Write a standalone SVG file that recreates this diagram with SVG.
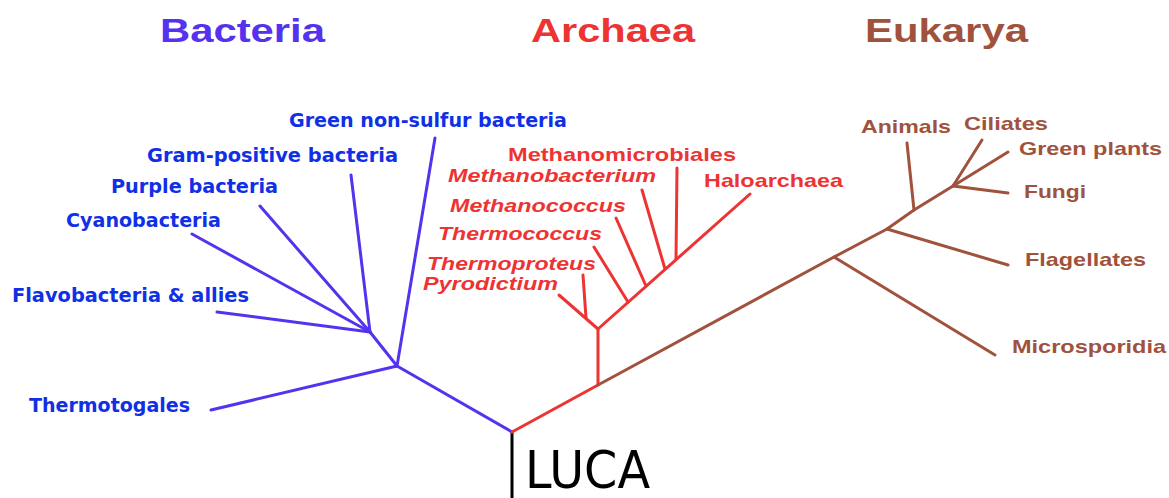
<svg xmlns="http://www.w3.org/2000/svg" width="1169" height="498" viewBox="0 0 1169 498">
<style>
.t{font-family:"Liberation Sans",Arial,sans-serif;font-weight:bold;font-size:34px}
.bl{font-family:"DejaVu Sans",Verdana,sans-serif;font-weight:bold;font-size:19px;fill:#1030e6}
.al{font-family:"Liberation Sans",Arial,sans-serif;font-weight:bold;font-size:19px;fill:#ee3333}
.ai{font-style:italic}
.el{font-family:"Liberation Sans",Arial,sans-serif;font-weight:bold;font-size:19px;fill:#a0523d}
.b{stroke:#5533ee;stroke-width:3;fill:none;stroke-linecap:round;stroke-linejoin:round}
.a{stroke:#ee3333;stroke-width:3;fill:none;stroke-linecap:round;stroke-linejoin:round}
.e{stroke:#a0523d;stroke-width:3;fill:none;stroke-linecap:round;stroke-linejoin:round}
.k{stroke:#000;stroke-width:3;fill:none}
</style>
<rect width="1169" height="498" fill="#fff"/>
<g id="connectors">
<line class="k" x1="512" y1="432" x2="512" y2="498"/>
<polyline class="b" points="512,432 397,366 211,410"/>
<line class="b" x1="397" y1="366" x2="435" y2="138"/>
<line class="b" x1="397" y1="366" x2="370" y2="332"/>
<line class="b" x1="370" y1="332" x2="217" y2="312"/>
<line class="b" x1="370" y1="332" x2="192" y2="234"/>
<line class="b" x1="370" y1="332" x2="260" y2="206"/>
<line class="b" x1="370" y1="332" x2="351" y2="175"/>
<polyline class="a" points="512,432 598,385 598,329 750,194"/>
<line class="a" x1="598" y1="329" x2="559" y2="295"/>
<line class="a" x1="586" y1="318" x2="583" y2="275"/>
<line class="a" x1="628" y1="302" x2="594" y2="247"/>
<line class="a" x1="646" y1="286" x2="616" y2="218"/>
<line class="a" x1="665" y1="269" x2="642" y2="190"/>
<line class="a" x1="676" y1="259" x2="677" y2="168"/>
<polyline class="e" points="598,385 834,257 887,229 914,210 953,186"/>
<line class="e" x1="834" y1="257" x2="995" y2="355"/>
<line class="e" x1="887" y1="229" x2="1008" y2="265"/>
<line class="e" x1="914" y1="210" x2="907" y2="143"/>
<line class="e" x1="953" y1="186" x2="982" y2="140"/>
<line class="e" x1="953" y1="186" x2="1008" y2="152"/>
<line class="e" x1="953" y1="186" x2="1008" y2="193"/>
</g>
<g id="title-bacteria"><text class="t" x="160" y="42" fill="#5533ee" textLength="165" lengthAdjust="spacingAndGlyphs">Bacteria</text></g>
<g id="title-archaea"><text class="t" x="531" y="42" fill="#ee3333" textLength="164" lengthAdjust="spacingAndGlyphs">Archaea</text></g>
<g id="title-eukarya"><text class="t" x="865" y="42" fill="#a0523d" textLength="163" lengthAdjust="spacingAndGlyphs">Eukarya</text></g>
<g id="luca"><text x="525" y="488" font-family="DejaVu Sans, Verdana, sans-serif" font-size="52" fill="#000" textLength="125" lengthAdjust="spacingAndGlyphs">LUCA</text></g>
<g id="green-non-sulfur"><text class="bl" x="289" y="127" textLength="278" lengthAdjust="spacingAndGlyphs">Green non-sulfur bacteria</text></g>
<g id="gram-positive"><text class="bl" x="147" y="162" textLength="251" lengthAdjust="spacingAndGlyphs">Gram-positive bacteria</text></g>
<g id="purple"><text class="bl" x="111" y="193" textLength="167" lengthAdjust="spacingAndGlyphs">Purple bacteria</text></g>
<g id="cyanobacteria"><text class="bl" x="66" y="227" textLength="155" lengthAdjust="spacingAndGlyphs">Cyanobacteria</text></g>
<g id="flavobacteria"><text class="bl" x="12" y="302" textLength="237" lengthAdjust="spacingAndGlyphs">Flavobacteria &amp; allies</text></g>
<g id="thermotogales"><text class="bl" x="29" y="412" textLength="161" lengthAdjust="spacingAndGlyphs">Thermotogales</text></g>
<g id="methanomicrobiales"><text class="al" x="508" y="161" textLength="228" lengthAdjust="spacingAndGlyphs">Methanomicrobiales</text></g>
<g id="methanobacterium"><text class="al ai" x="448" y="182" textLength="208" lengthAdjust="spacingAndGlyphs">Methanobacterium</text></g>
<g id="haloarchaea"><text class="al" x="704" y="187" textLength="139" lengthAdjust="spacingAndGlyphs">Haloarchaea</text></g>
<g id="methanococcus"><text class="al ai" x="450" y="212" textLength="176" lengthAdjust="spacingAndGlyphs">Methanococcus</text></g>
<g id="thermococcus"><text class="al ai" x="438" y="240" textLength="164" lengthAdjust="spacingAndGlyphs">Thermococcus</text></g>
<g id="thermoproteus"><text class="al ai" x="427" y="270" textLength="169" lengthAdjust="spacingAndGlyphs">Thermoproteus</text></g>
<g id="pyrodictium"><text class="al ai" x="423" y="290" textLength="135" lengthAdjust="spacingAndGlyphs">Pyrodictium</text></g>
<g id="animals"><text class="el" x="861" y="133" textLength="90" lengthAdjust="spacingAndGlyphs">Animals</text></g>
<g id="ciliates"><text class="el" x="964" y="130" textLength="84" lengthAdjust="spacingAndGlyphs">Ciliates</text></g>
<g id="green-plants"><text class="el" x="1019" y="155" textLength="143" lengthAdjust="spacingAndGlyphs">Green plants</text></g>
<g id="fungi"><text class="el" x="1024" y="198" textLength="62" lengthAdjust="spacingAndGlyphs">Fungi</text></g>
<g id="flagellates"><text class="el" x="1025" y="266" textLength="121" lengthAdjust="spacingAndGlyphs">Flagellates</text></g>
<g id="microsporidia"><text class="el" x="1012" y="353" textLength="154" lengthAdjust="spacingAndGlyphs">Microsporidia</text></g>
</svg>
